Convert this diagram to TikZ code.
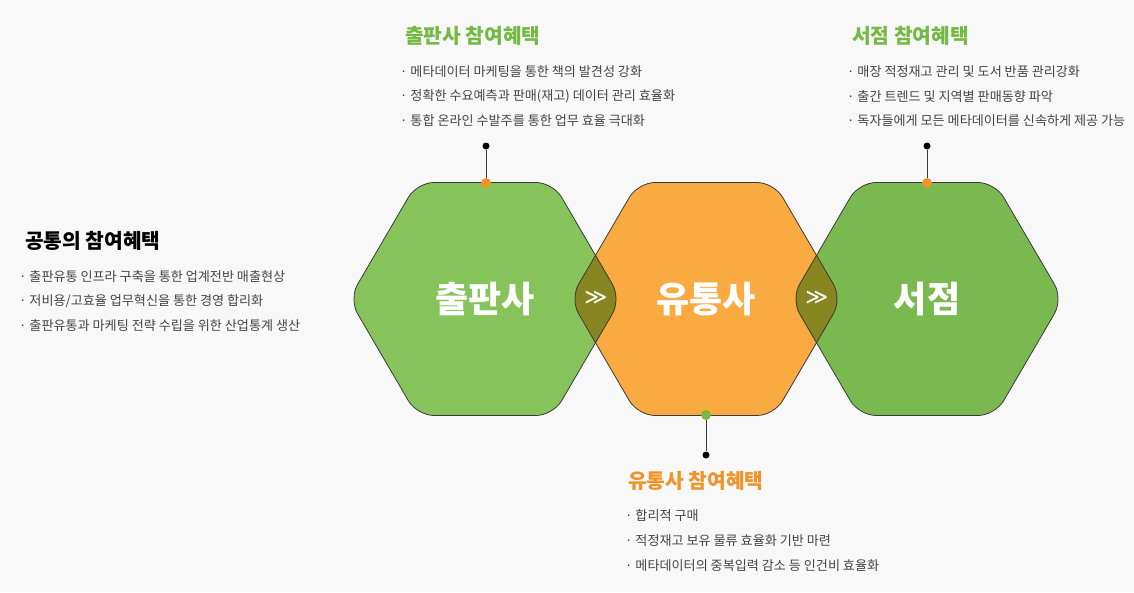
\documentclass[tikz,border=0pt]{standalone}
\usepackage{fontspec}
\setmainfont{Noto Sans CJK KR}
\newfontfamily\symfont{DejaVu Sans}
\definecolor{bgc}{HTML}{F8F8F8}
\definecolor{hgreen}{HTML}{86C35A}
\definecolor{hgreenb}{HTML}{7AB94F}
\definecolor{horange}{HTML}{F9AA40}
\definecolor{holive}{HTML}{878620}
\definecolor{tgreen}{HTML}{76B942}
\definecolor{torange}{HTML}{EF9429}
\definecolor{tgrey}{HTML}{444444}
\definecolor{outl}{HTML}{3A3A3A}
\newcommand\hexat[1]{({#1},182.5) -- ({#1+68},182.5) -- ({#1+136},299) -- ({#1+68},415.5) -- ({#1-68},415.5) -- ({#1-136},299) -- ({#1-68},182.5) -- cycle}
\tikzset{
  hexround/.style={rounded corners=17pt},
  hexline/.style={draw=outl, line width=0.8pt, rounded corners=17pt},
  hexlabel/.style={text=white, font=\fontsize{36}{42}\selectfont\bfseries},
  chev/.style={text=white, font=\symfont\fontsize{22}{24}\selectfont},
  title/.style={anchor=west, inner sep=0pt, font=\fontsize{20.3}{24}\selectfont\bfseries},
  bullet/.style={anchor=west, inner sep=0pt, text=tgrey, font=\fontsize{13.1}{16}\selectfont},
  dotc/.style={circle, inner sep=0pt, minimum size=10pt},
  tipdot/.style={circle, fill=black, inner sep=0pt, minimum size=7pt},
  stem/.style={draw=outl, line width=0.9pt}
}
\begin{document}
\begin{tikzpicture}[x=1pt,y=-1pt]
\useasboundingbox (0,0) rectangle (1134,592);
\fill[bgc] (0,0) rectangle (1134,592);
% hexagon fills
\fill[hgreen, hexround] \hexat{485};
\fill[hgreenb, hexround] \hexat{927};
\fill[horange, hexround] \hexat{706};
% overlap lenses
\begin{scope}
  \clip[hexround] \hexat{485};
  \fill[holive, hexround] \hexat{706};
\end{scope}
\begin{scope}
  \clip[hexround] \hexat{927};
  \fill[holive, hexround] \hexat{706};
\end{scope}
% outlines
\draw[hexline] \hexat{485};
\draw[hexline] \hexat{927};
\draw[hexline] \hexat{706};
% labels
\node[hexlabel] (pub) at (485,299) {출판사};
\node[hexlabel] (dist) at (706,299) {유통사};
\node[hexlabel] (shop) at (927,299) {서점};
\node[chev] (c1) at (596,298) {≫};
\node[chev] (c2) at (817,298) {≫};
% stems and dots
\node[tipdot] (t1) at (486,146) {};
\node[dotc, fill=torange] (d1) at (486,183) {};
\draw[stem] (t1) -- (d1);
\node[tipdot] (t3) at (927,146) {};
\node[dotc, fill=torange] (d3) at (927,183) {};
\draw[stem] (t3) -- (d3);
\node[tipdot] (t2) at (706,455) {};
\node[dotc, fill=tgreen] (d2) at (706,415) {};
\draw[stem] (d2) -- (t2);
% publisher benefits
\node[title, text=tgreen] (pt) at (405,35.5) {출판사 참여혜택};
\node[bullet] (p1) at (400,72) {· 메타데이터 마케팅을 통한 책의 발견성 강화};
\node[bullet] (p2) at (400,96.5) {· 정확한 수요예측과 판매(재고) 데이터 관리 효율화};
\node[bullet] (p3) at (400,121) {· 통합 온라인 수발주를 통한 업무 효율 극대화};
% bookstore benefits
\node[title, text=tgreen] (st) at (852,35.5) {서점 참여혜택};
\node[bullet] (s1) at (847,72) {· 매장 적정재고 관리 및 도서 반품 관리강화};
\node[bullet] (s2) at (847,96.5) {· 출간 트렌드 및 지역별 판매동향 파악};
\node[bullet] (s3) at (847,121) {· 독자들에게 모든 메타데이터를 신속하게 제공 가능};
% common benefits
\node[title, text=black] (ct) at (25,241) {공통의 참여혜택};
\node[bullet] (m1) at (19,277) {· 출판유통 인프라 구축을 통한 업계전반 매출현상};
\node[bullet] (m2) at (19,301) {· 저비용/고효율 업무혁신을 통한 경영 합리화};
\node[bullet] (m3) at (19,325.5) {· 출판유통과 마케팅 전략 수립을 위한 산업통계 생산};
% distributor benefits
\node[title, text=torange] (dt) at (628,481) {유통사 참여혜택};
\node[bullet] (q1) at (625,516) {· 합리적 구매};
\node[bullet] (q2) at (625,540.5) {· 적정재고 보유 물류 효율화 기반 마련};
\node[bullet] (q3) at (625,566) {· 메타데이터의 중복입력 감소 등 인건비 효율화};
\end{tikzpicture}
\end{document}
